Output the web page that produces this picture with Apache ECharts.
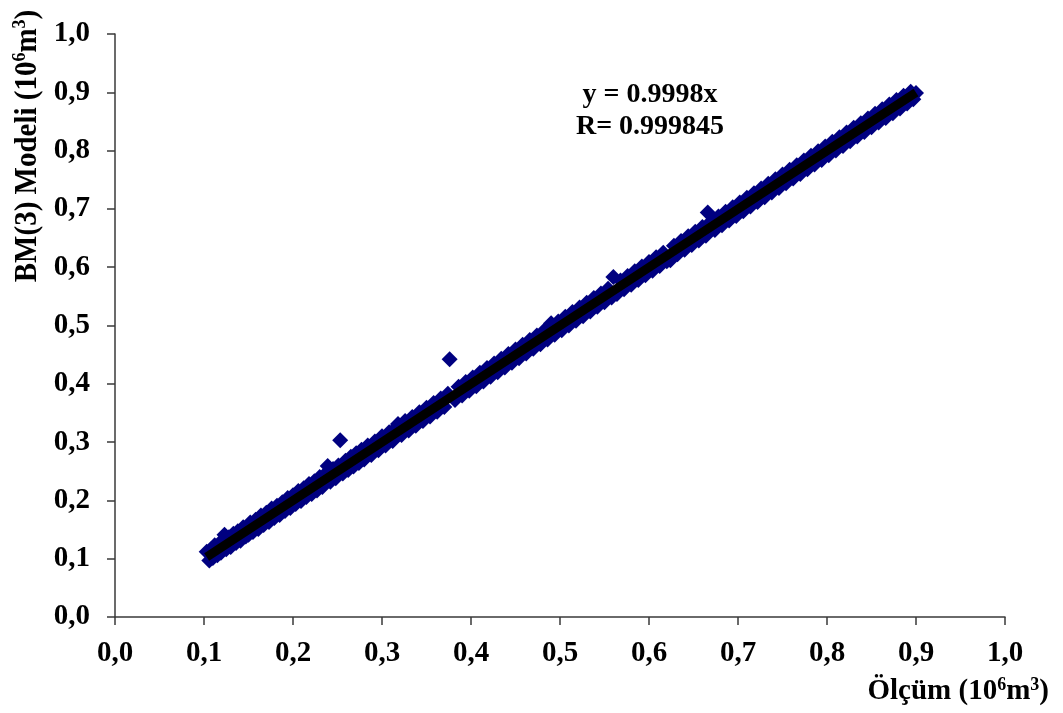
<!DOCTYPE html>
<html>
<head>
<meta charset="utf-8">
<script src="https://cdn.jsdelivr.net/npm/echarts@6/dist/echarts.min.js"></script>
<style>html,body{margin:0;padding:0;background:#fff;}#c{width:1063px;height:713px;}</style>
</head>
<body>
<div id="c"></div>
<script>
// Measured (Ölçüm) values, 10^6 m3
var measured = [0.103,0.106,0.108,0.110,0.112,0.115,0.117,0.119,0.121,0.123,0.125,0.128,0.130,0.133,0.136,0.138,0.141,0.144,0.147,0.150,
0.152,0.155,0.158,0.161,0.164,0.167,0.170,0.173,0.176,0.179,0.182,0.185,0.188,0.191,0.194,0.197,0.200,0.203,0.206,0.209,
0.212,0.215,0.218,0.221,0.224,0.227,0.230,0.233,0.236,0.239,0.242,0.245,0.248,0.251,0.253,0.256,0.259,0.262,0.265,0.268,
0.271,0.274,0.277,0.280,0.284,0.288,0.292,0.296,0.300,0.304,0.308,0.312,0.316,0.318,0.322,0.326,0.330,0.334,0.338,0.342,
0.346,0.350,0.354,0.358,0.362,0.366,0.370,0.374,0.376,0.382,0.386,0.390,0.394,0.398,0.402,0.406,0.410,0.414,0.418,0.422,
0.426,0.430,0.434,0.438,0.442,0.446,0.450,0.454,0.458,0.462,0.466,0.470,0.474,0.478,0.482,0.486,0.490,0.494,0.498,0.502,
0.506,0.510,0.514,0.518,0.522,0.526,0.530,0.534,0.538,0.542,0.546,0.550,0.554,0.558,0.560,0.564,0.568,0.572,0.576,0.580,
0.584,0.588,0.592,0.596,0.600,0.604,0.608,0.612,0.616,0.620,0.624,0.628,0.632,0.636,0.640,0.644,0.648,0.652,0.656,0.660,
0.664,0.666,0.670,0.674,0.678,0.682,0.686,0.690,0.694,0.698,0.702,0.706,0.710,0.714,0.718,0.722,0.726,0.730,0.734,0.738,
0.742,0.746,0.750,0.754,0.758,0.762,0.766,0.770,0.774,0.778,0.782,0.786,0.790,0.794,0.798,0.802,0.806,0.810,0.814,0.818,
0.822,0.826,0.830,0.834,0.838,0.842,0.846,0.850,0.854,0.858,0.862,0.866,0.870,0.874,0.878,0.882,0.886,0.890,0.894,0.897,0.900];
// BM(3) model values, 10^6 m3
var modelled = [0.112,0.097,0.116,0.101,0.123,0.106,0.126,0.110,0.130,0.141,0.116,0.137,0.120,0.143,0.127,0.147,0.131,0.154,0.138,0.141,
0.162,0.146,0.167,0.151,0.174,0.158,0.179,0.163,0.186,0.170,0.191,0.175,0.197,0.182,0.204,0.187,0.209,0.194,0.216,0.199,
0.221,0.206,0.228,0.211,0.233,0.217,0.240,0.223,0.245,0.259,0.232,0.254,0.238,0.260,0.303,0.246,0.268,0.252,0.275,0.258,
0.281,0.264,0.287,0.270,0.294,0.278,0.301,0.286,0.310,0.294,0.317,0.302,0.325,0.331,0.312,0.336,0.320,0.343,0.328,0.351,
0.336,0.359,0.344,0.367,0.352,0.375,0.360,0.383,0.442,0.372,0.395,0.380,0.403,0.388,0.411,0.396,0.419,0.404,0.427,0.412,
0.435,0.420,0.443,0.428,0.451,0.436,0.459,0.444,0.467,0.452,0.475,0.460,0.483,0.468,0.491,0.476,0.504,0.484,0.507,0.492,
0.515,0.500,0.523,0.508,0.531,0.516,0.539,0.524,0.547,0.532,0.555,0.540,0.563,0.548,0.583,0.554,0.577,0.562,0.585,0.570,
0.593,0.578,0.601,0.586,0.609,0.594,0.617,0.602,0.625,0.610,0.612,0.637,0.622,0.645,0.630,0.653,0.638,0.661,0.646,0.669,
0.654,0.694,0.679,0.664,0.687,0.672,0.695,0.680,0.703,0.688,0.711,0.696,0.719,0.704,0.727,0.712,0.735,0.720,0.743,0.728,
0.751,0.736,0.759,0.744,0.767,0.752,0.775,0.760,0.783,0.768,0.791,0.776,0.799,0.784,0.807,0.792,0.815,0.800,0.823,0.808,
0.831,0.816,0.839,0.824,0.847,0.832,0.855,0.840,0.863,0.848,0.871,0.856,0.879,0.864,0.887,0.872,0.894,0.881,0.901,0.888,0.899];
// Trend line endpoints (y = 0.9998x)
var trendX = [0.103, 0.900];
var trendY = [0.1030, 0.8998];
var tickLabels = ['0,0','0,1','0,2','0,3','0,4','0,5','0,6','0,7','0,8','0,9','1,0'];
var eqText = 'y = 0.9998x';
var rText = 'R= 0.999845';

var pts = measured.map(function (x, i) { return [x, modelled[i]]; });
var trend = trendX.map(function (x, i) { return [x, trendY[i]]; });
var FONT = '"Liberation Serif", "Times New Roman", serif';
function fmt(v) { return tickLabels[Math.round(v * 10)]; }

function makeAxis(margin) {
  return {
    type: 'value', min: 0, max: 1, interval: 0.1,
    axisLine: { show: true, onZero: false, lineStyle: { color: '#3a3a3a', width: 1.5 } },
    axisTick: { show: true, inside: false, length: 8, lineStyle: { color: '#3a3a3a', width: 1.5 } },
    splitLine: { show: false },
    axisLabel: { formatter: fmt, fontFamily: FONT, fontWeight: 'bold', fontSize: 29, color: '#000', margin: margin }
  };
}

var chart = echarts.init(document.getElementById('c'));
chart.setOption({
  backgroundColor: '#fff',
  animation: false,
  grid: { left: 115, right: 58, top: 34, bottom: 96, containLabel: false },
  xAxis: makeAxis(22),
  yAxis: makeAxis(25),
  series: [
    { type: 'scatter', data: pts, symbol: 'diamond', symbolSize: 16, itemStyle: { color: '#000080', opacity: 1 }, z: 2 },
    { type: 'line', data: trend, symbol: 'none', lineStyle: { color: '#000', width: 9 }, z: 3 }
  ],
  graphic: [
    { type: 'text', x: 28, y: 146, rotation: Math.PI / 2, scaleY: 1.1,
      style: { text: 'BM(3) Modeli (10{s|6}m{s|3})', fontFamily: FONT, fontWeight: 'bold', fontSize: 29, fill: '#000',
        align: 'center', verticalAlign: 'middle', lineHeight: 32,
        rich: { s: { fontFamily: FONT, fontWeight: 'bold', fontSize: 18, verticalAlign: 'top', lineHeight: 32, fill: '#000' } } } },
    { type: 'text', x: 1049, y: 692,
      style: { text: 'Ölçüm (10{s|6}m{s|3})', fontFamily: FONT, fontWeight: 'bold', fontSize: 29, fill: '#000',
        align: 'right', verticalAlign: 'middle', lineHeight: 32,
        rich: { s: { fontFamily: FONT, fontWeight: 'bold', fontSize: 18, verticalAlign: 'top', lineHeight: 32, fill: '#000' } } } },
    { type: 'text', x: 650, y: 111,
      style: { text: eqText + '\n' + rText, fontFamily: FONT, fontWeight: 'bold', fontSize: 28, fill: '#000',
        align: 'center', verticalAlign: 'middle', lineHeight: 32 } }
  ]
});
</script>
</body>
</html>
